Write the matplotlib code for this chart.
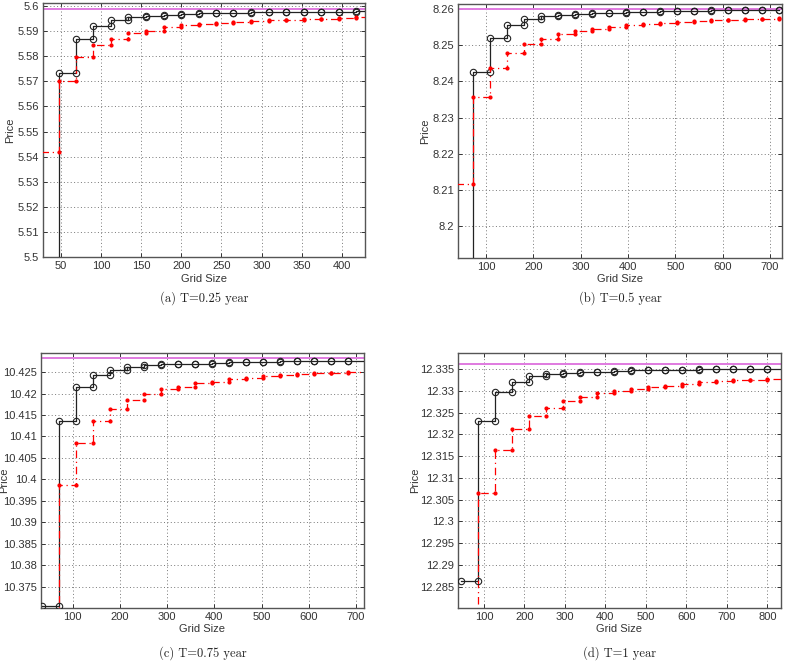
import numpy as np
import matplotlib
matplotlib.use("Agg")
import matplotlib.pyplot as plt
from matplotlib.ticker import FuncFormatter, MultipleLocator

# ---------------- data ----------------
grid_a = [25, 47, 69, 90, 112, 134, 156, 178, 200, 222, 243, 265, 287, 309, 331, 353, 374, 396, 418, 440]
black_a = [5.45, 5.5734, 5.5870, 5.5921, 5.5943, 5.5954, 5.5960, 5.5964, 5.5967, 5.5970,
           5.5971, 5.5972, 5.5974, 5.5974, 5.5975, 5.5976, 5.5977, 5.5977, 5.5978, 5.5978]
red_a = [5.5419, 5.5701, 5.5795, 5.5843, 5.5869, 5.5890, 5.5901, 5.5917, 5.5922, 5.5927,
         5.5933, 5.5937, 5.5939, 5.5942, 5.5944, 5.5947, 5.5948, 5.5951, 5.5955, 5.5957]
ref_a = 5.5986

grid_b = [36, 72, 108, 144, 180, 216, 252, 288, 324, 360, 396, 432, 468, 504, 540, 576, 612, 648, 684, 720]
black_b = [8.18, 8.2426, 8.2521, 8.2556, 8.2572, 8.2581, 8.2584, 8.2588, 8.2590, 8.2591,
           8.2592, 8.2593, 8.2594, 8.2595, 8.2596, 8.2597, 8.2597, 8.2598, 8.2598, 8.2599]
red_b = [8.2116, 8.2358, 8.2437, 8.2480, 8.2503, 8.2519, 8.2532, 8.2539, 8.2545, 8.2550,
         8.2556, 8.2558, 8.2561, 8.2565, 8.2568, 8.2569, 8.2571, 8.2573, 8.2574, 8.2576]
ref_b = 8.2600

grid_c = [36, 72, 108, 144, 180, 216, 252, 288, 324, 360, 396, 432, 468, 504, 540, 576, 612, 648, 684, 720]
black_c = [10.3705, 10.4137, 10.4215, 10.4243, 10.4255, 10.4262, 10.4266, 10.4268, 10.4269, 10.4270,
           10.4272, 10.4273, 10.4273, 10.4274, 10.4275, 10.4275, 10.4275, 10.4276, 10.4276, 10.4276]
red_c = [10.36, 10.3986, 10.4084, 10.4136, 10.4164, 10.4184, 10.4198, 10.4210, 10.4216, 10.4224,
         10.4228, 10.4233, 10.4236, 10.4240, 10.4243, 10.4245, 10.4247, 10.4248, 10.4251, 10.4252]
ref_c = 10.4284

grid_d = [42, 84, 126, 168, 210, 252, 294, 336, 378, 420, 462, 504, 546, 588, 630, 672, 714, 756, 798, 840]
black_d = [12.2863, 12.3231, 12.3297, 12.3321, 12.3335, 12.3339, 12.3340, 12.3342, 12.3344, 12.3345,
           12.3347, 12.3348, 12.3348, 12.3348, 12.3349, 12.3349, 12.3349, 12.3350, 12.3350, 12.3350]
red_d = [12.27, 12.3066, 12.3164, 12.3213, 12.3242, 12.3261, 12.3277, 12.3286, 12.3295, 12.3299,
         12.3304, 12.3308, 12.3312, 12.3316, 12.3319, 12.3322, 12.3324, 12.3325, 12.3327, 12.3328]
ref_d = 12.3361

captions = ["(a) T=0.25 year", "(b) T=0.5 year", "(c) T=0.75 year", "(d) T=1 year"]

# ---------------- layout ----------------
W, H = 790, 661
fig = plt.figure(figsize=(W / 100, H / 100), dpi=100)

panels = [
    dict(g=grid_a, b=black_a, r=red_a, ref=ref_a, box=(43.3, 3.3, 365, 257.3),
         xlim=(28, 429), ylim=(5.5, 5.601), xstep=50, yt=(5.5, 5.6, 0.01), ylab_x=10, xlab_y=279, cap_y=298),
    dict(g=grid_b, b=black_b, r=red_b, ref=ref_b, box=(458, 3.5, 782, 258.3),
         xlim=(40.8, 725.4), ylim=(8.191, 8.2616), xstep=100, yt=(8.2, 8.26, 0.01), ylab_x=425, xlab_y=279, cap_y=298),
    dict(g=grid_c, b=black_c, r=red_c, ref=ref_c, box=(41, 353.3, 364, 608),
         xlim=(33, 717), ylim=(10.3700, 10.4294), xstep=100, yt=(10.375, 10.425, 0.005), ylab_x=4, xlab_y=629, cap_y=653),
    dict(g=grid_d, b=black_d, r=red_d, ref=ref_d, box=(458, 353.3, 781, 608),
         xlim=(35.8, 833.8), ylim=(12.2801, 12.3386), xstep=100, yt=(12.285, 12.335, 0.005), ylab_x=415, xlab_y=629, cap_y=653),
]

fmt = FuncFormatter(lambda v, p: "%g" % round(v, 6))
txt_col = "#333333"


def stair_vertices(x, y):
    x = np.asarray(x, float)
    y = np.asarray(y, float)
    xs = np.repeat(x, 2)[1:]
    ys = np.repeat(y, 2)[:-1]
    return xs, ys


for i, p in enumerate(panels):
    x0, y0, x1, y1 = p["box"]
    ax = fig.add_axes([x0 / W, 1 - y1 / H, (x1 - x0) / W, (y1 - y0) / H])

    # reference price
    ax.axhline(p["ref"], color="#e07ae0", lw=1.4, zorder=2)

    # black stairs with circles
    xs, ys = stair_vertices(p["g"], p["b"])
    ax.plot(xs, ys, color="#222222", lw=0.9, zorder=3)
    m = (xs >= p["xlim"][0]) & (xs <= p["xlim"][1]) & (ys >= p["ylim"][0]) & (ys <= p["ylim"][1])
    ax.plot(xs[m], ys[m], ls="none", marker="o", ms=4.6, mfc="none", mec="#222222", mew=0.8, zorder=4)

    # red stairs with dots
    xr, yr = stair_vertices(p["g"], p["r"])
    ax.plot(xr, yr, color="red", lw=0.9, ls=(0, (6, 3, 1, 3)), zorder=3)
    m = (xr >= p["xlim"][0]) & (xr <= p["xlim"][1]) & (yr >= p["ylim"][0]) & (yr <= p["ylim"][1])
    ax.plot(xr[m], yr[m], ls="none", marker="o", ms=2.0, color="red", mec="red", zorder=4)

    ax.set_xlim(*p["xlim"])
    ax.set_ylim(*p["ylim"])
    ax.xaxis.set_major_locator(MultipleLocator(p["xstep"]))
    t0, t1, dt = p["yt"]
    ax.set_yticks(np.round(np.arange(t0, t1 + dt / 2, dt), 6))
    ax.yaxis.set_major_formatter(fmt)
    ax.grid(True, color="#777777", lw=0.7, ls=(0, (1, 2.5)))
    ax.set_axisbelow(True)
    ax.tick_params(direction="in", top=True, right=True, length=3, width=0.7,
                   labelsize=8, colors="#333333", labelcolor=txt_col, pad=3)
    for s in ax.spines.values():
        s.set_color("#555555")
        s.set_linewidth(1.0)
    for lab in ax.get_xticklabels() + ax.get_yticklabels():
        lab.set_family(["Liberation Sans", "DejaVu Sans"])

    cx = (x0 + x1) / 2
    fig.text(cx / W, 1 - p["xlab_y"] / H, "Grid Size", ha="center", va="center",
             fontsize=8, color=txt_col, family=["Liberation Sans", "DejaVu Sans"])
    fig.text(p["ylab_x"] / W, 1 - ((y0 + y1) / 2) / H, "Price", ha="center", va="center",
             rotation=90, fontsize=8, color=txt_col, family=["Liberation Sans", "DejaVu Sans"])
    fig.text(cx / W, 1 - p["cap_y"] / H, captions[i], ha="center", va="center",
             fontsize=9, color="#222222", family=["cmr10", "DejaVu Serif"])

fig.savefig("out.png", dpi=100)
